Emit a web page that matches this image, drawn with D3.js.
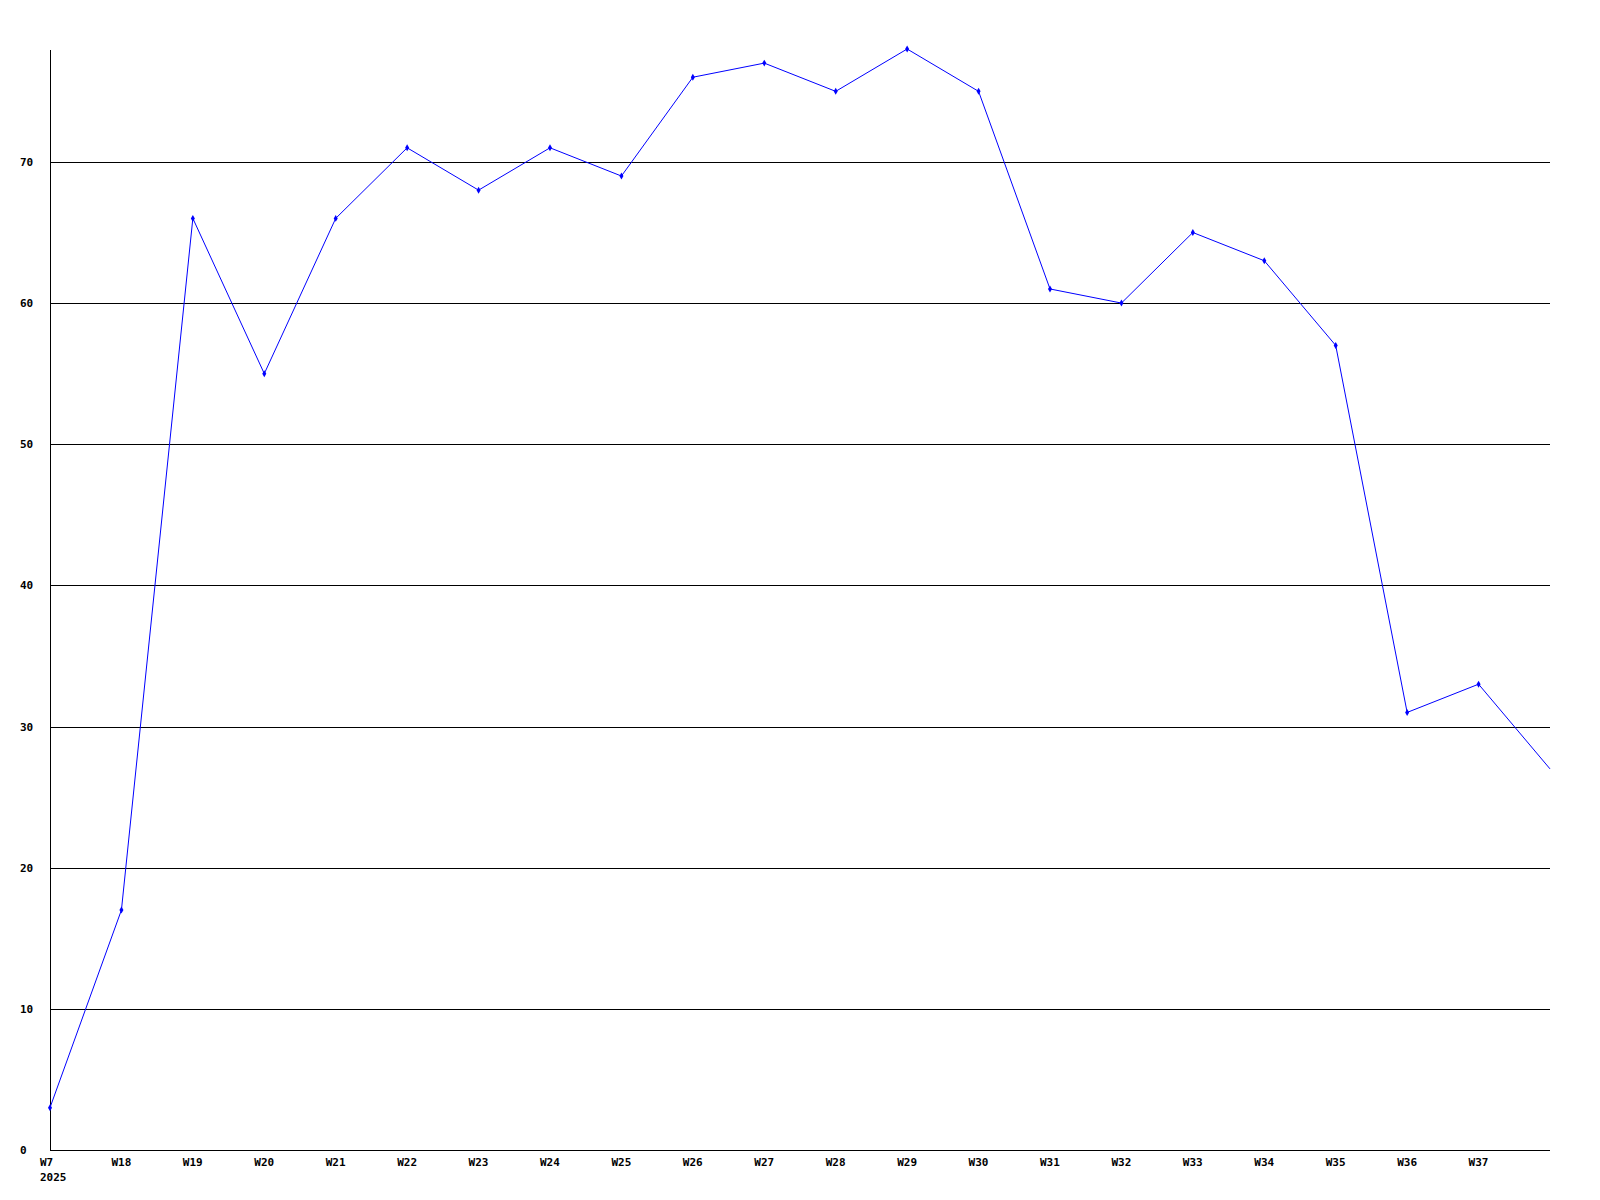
<!DOCTYPE html>
<html><head><meta charset="utf-8">
<script src="https://cdn.jsdelivr.net/npm/d3@7"></script>
<style>html,body{margin:0;padding:0;background:#fff;}svg{display:block;}</style>
</head><body>
<script>
const weeks = ["W7","W18","W19","W20","W21","W22","W23","W24","W25","W26","W27","W28","W29","W30","W31","W32","W33","W34","W35","W36","W37",""];
const values = [3,17,66,55,66,71,68,71,69,76,77,75,78,75,61,60,65,63,57,31,33,27];
const yTicks = [0,10,20,30,40,50,60,70];
const yearLabel = "2025";

const W = 1600, H = 1200;
const svg = d3.select("body").append("svg").attr("width", W).attr("height", H);
const x = d3.scaleLinear().domain([0, weeks.length - 1]).range([50, 1550]);
const y = d3.scaleLinear().domain([0, 78]).range([1150, 49]);
const font = "'DejaVu Sans Mono', monospace";

// gridlines
svg.append("g").selectAll("line").data(yTicks.filter(d => d > 0)).join("line")
  .attr("x1", 50).attr("x2", 1550)
  .attr("y1", d => Math.round(y(d)) + 0.5).attr("y2", d => Math.round(y(d)) + 0.5)
  .attr("stroke", "#000").attr("stroke-width", 1);

// axes
svg.append("line").attr("x1", 50.5).attr("x2", 50.5).attr("y1", 50).attr("y2", 1150.5).attr("stroke", "#000");
svg.append("line").attr("x1", 50).attr("x2", 1550).attr("y1", 1150.5).attr("y2", 1150.5).attr("stroke", "#000");

// y labels
svg.append("g").selectAll("text").data(yTicks).join("text")
  .attr("x", 20).attr("y", d => Math.round(y(d)) + 4)
  .attr("font-family", font).attr("font-weight", "bold").attr("font-size", 11)
  .text(d => d);

// x labels
svg.append("g").selectAll("text").data(weeks).join("text")
  .attr("x", (d, i) => x(i) - 10).attr("y", 1166)
  .attr("font-family", font).attr("font-weight", "bold").attr("font-size", 11)
  .text(d => d);
svg.append("text").attr("x", 40).attr("y", 1181)
  .attr("font-family", font).attr("font-weight", "bold").attr("font-size", 11)
  .text(yearLabel);

// line
const line = d3.line().x((d, i) => x(i)).y(d => y(d));
svg.append("path").datum(values).attr("d", line)
  .attr("fill", "none").attr("stroke", "#0000ff").attr("stroke-width", 1);

// markers
svg.append("g").selectAll("path").data(values.slice(0, -1)).join("path")
  .attr("transform", (d, i) => `translate(${x(i)},${y(d)})`)
  .attr("d", d3.symbol(d3.symbolDiamond, 14))
  .attr("fill", "#0000ff");
</script>
</body></html>
